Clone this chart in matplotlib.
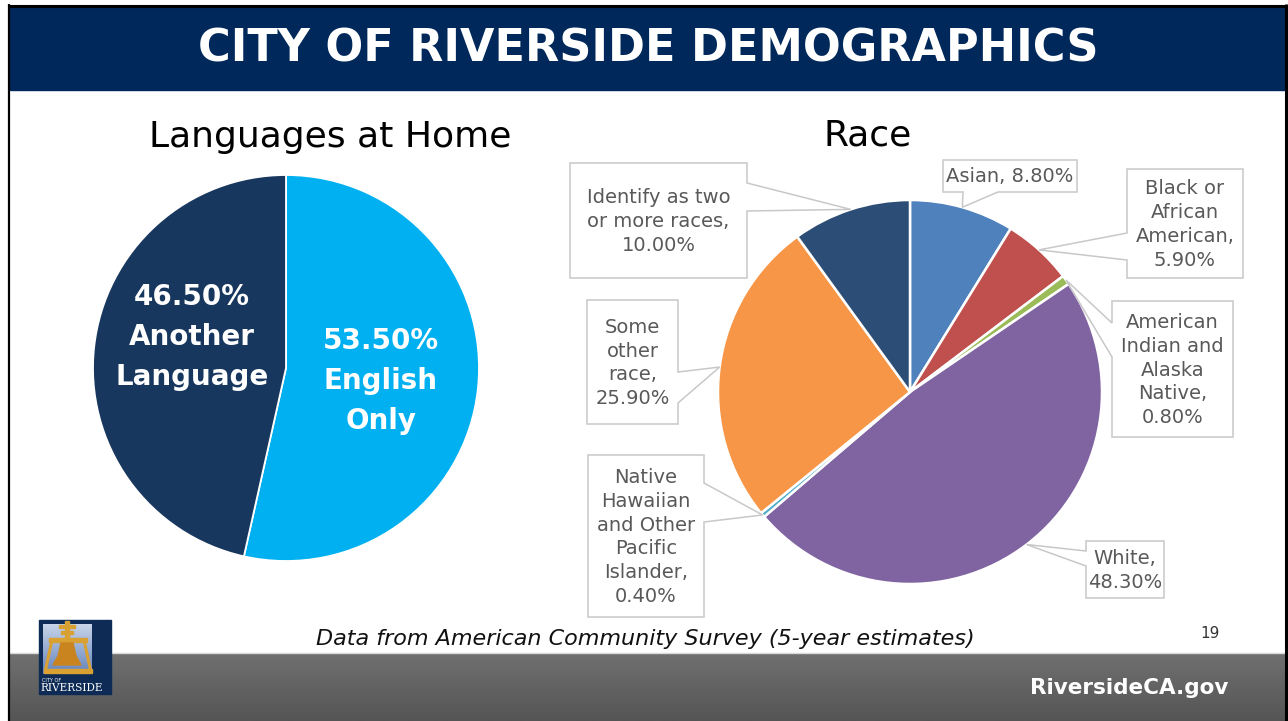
import numpy as np
import matplotlib
matplotlib.use("Agg")
import matplotlib.pyplot as plt
from matplotlib.patches import Rectangle, Polygon

# -------------------------
# DATA
# -------------------------
lang_labels = ["English\nOnly", "Another\nLanguage"]
lang_values = [53.5, 46.5]
lang_colors = ["#00B0F0", "#17375E"]

race_labels = ["Asian,", "Black or\nAfrican\nAmerican,",
               "American\nIndian and\nAlaska\nNative,", "White,",
               "Native\nHawaiian\nand Other\nPacific\nIslander,",
               "Some\nother\nrace,", "Identify as two\nor more races,"]
race_values = [8.8, 5.9, 0.8, 48.3, 0.4, 25.9, 10.0]
race_colors = ["#4F81BD", "#C0504D", "#9BBB59", "#8064A2",
               "#4BACC6", "#F79646", "#2C4D75"]

title = "CITY OF RIVERSIDE DEMOGRAPHICS"
source_note = "Data from American Community Survey (5-year estimates)"

# -------------------------
# LAYOUT (pixels, y down)
# -------------------------
W, H = 1288, 721
lang_center, lang_r = (286, 368), 193
race_center, race_r = (910, 392), 192

# callout box, side of pointer, pointer base, separator before value
callouts = [
    ((943, 160, 1077, 192), "bottom", (963, 998), " "),
    ((1127, 169, 1243, 278), "left", (233, 260), "\n"),
    ((1112, 301, 1233, 437), "left", (323, 357), "\n"),
    ((1086, 541, 1164, 598), "left", (551, 566), "\n"),
    ((588, 455, 704, 617), "right", (483, 522), "\n"),
    ((587, 300, 678, 424), "right", (372, 403), "\n"),
    ((570, 163, 747, 278), "right", (183, 211), "\n"),
]
lang_text_pos = [(381, 381), (192, 337)]

fig = plt.figure(figsize=(W / 100, H / 100), dpi=100)
fig.patch.set_facecolor("white")
ax = fig.add_axes([0, 0, 1, 1])

# -------------------------
# SLIDE FRAME
# -------------------------
ax.add_patch(Rectangle((10, 7), 1275, 83, color="#00285A", zorder=2))
ax.plot([8, 1288], [5.5, 5.5], color="black", lw=2.2, zorder=5, solid_capstyle="butt")
ax.plot([9, 9], [4, 721], color="black", lw=1.6, zorder=5, solid_capstyle="butt")
ax.plot([1286.5, 1286.5], [4, 721], color="black", lw=2.2, zorder=5, solid_capstyle="butt")

ax.text(648, 49, title, ha="center", va="center", color="white",
        fontsize=32, fontweight="bold", zorder=3)

# footer band with gradient
grad = np.linspace(0, 1, 60).reshape(-1, 1, 1)
top_c = np.array([0x70, 0x70, 0x70]) / 255
bot_c = np.array([0x55, 0x55, 0x55]) / 255
img = top_c * (1 - grad) + bot_c * grad
ax.imshow(img, extent=(10, 1285, 721, 653), aspect="auto", zorder=1)
ax.plot([10, 1285], [653, 653], color="#d9d9d9", lw=1, zorder=2)
ax.text(1228, 688, "RiversideCA.gov", ha="right", va="center", color="white",
        fontsize=15.5, fontweight="bold", zorder=3)

ax.text(645, 639, source_note, ha="center", va="center", color="#111111",
        fontsize=16, style="italic", zorder=3)
ax.text(1210, 633, "19", ha="center", va="center", color="#333333", fontsize=11)

# logo (simplified)
ax.add_patch(Rectangle((39, 620), 72, 74, color="#0D2B55", zorder=4))
sky = np.linspace(0, 1, 40).reshape(-1, 1, 1)
sky_img = np.array([0.78, 0.83, 0.91]) * (1 - sky) + np.array([0.40, 0.52, 0.74]) * sky
ax.imshow(sky_img, extent=(43, 92, 674, 624), aspect="auto", zorder=4.1)
gold = "#D9A032"
ax.add_patch(Rectangle((44, 669), 48, 4, color=gold, zorder=4.3))
ax.add_patch(Rectangle((49, 638), 38, 4, color=gold, zorder=4.3))
ax.plot([52, 45.5], [640, 670], color=gold, lw=2.2, zorder=4.3)
ax.plot([84, 90.5], [640, 670], color=gold, lw=2.2, zorder=4.3)
ax.add_patch(Rectangle((65, 621), 4, 20, color=gold, zorder=4.3))
ax.add_patch(Rectangle((59, 625), 16, 3, color=gold, zorder=4.3))
ax.add_patch(Rectangle((61, 631), 12, 3, color=gold, zorder=4.3))
ax.add_patch(Polygon([(61, 643), (73, 643), (76, 656), (81, 665), (53, 665), (58, 656)],
                     closed=True, color="#C9841F", zorder=4.4))
ax.text(42, 680, "CITY OF", color="white", fontsize=3.6, ha="left", va="center", zorder=4.5)
ax.text(40.5, 688, "RIVERSIDE", color="white", fontsize=7.6, family="DejaVu Serif",
        ha="left", va="center", zorder=4.5)

# -------------------------
# LANGUAGES PIE
# -------------------------
ax.text(330, 137, "Languages at Home", ha="center", va="center", color="black", fontsize=26)
lang_wedges, _ = ax.pie(lang_values, colors=lang_colors, startangle=-90, counterclock=True,
                        center=lang_center, radius=lang_r,
                        wedgeprops=dict(edgecolor="white", linewidth=1.3))
for (x, y), lab, v in zip(lang_text_pos, lang_labels, lang_values):
    ax.text(x, y, f"{v:.2f}%\n{lab}", ha="center", va="center", color="white",
            fontsize=20, fontweight="bold", linespacing=1.55, zorder=3)

# -------------------------
# RACE PIE
# -------------------------
ax.text(868, 135, "Race", ha="center", va="center", color="black", fontsize=26)
race_wedges, _ = ax.pie(race_values, colors=race_colors, startangle=-90, counterclock=True,
                        center=race_center, radius=race_r,
                        wedgeprops=dict(edgecolor="white", linewidth=1.8))

for w, lab, v, (box, side, base, sep) in zip(race_wedges, race_labels, race_values, callouts):
    mid = np.deg2rad((w.theta1 + w.theta2) / 2)
    tip = (race_center[0] + race_r * np.cos(mid), race_center[1] + race_r * np.sin(mid))
    x0, y0, x1, y1 = box
    b_lo, b_hi = sorted(base)
    pts = [(x0, y0), (x1, y0)]
    if side == "right":
        pts += [(x1, b_lo), tip, (x1, b_hi)]
    pts += [(x1, y1)]
    if side == "bottom":
        pts += [(b_hi, y1), tip, (b_lo, y1)]
    pts += [(x0, y1)]
    if side == "left":
        pts += [(x0, b_hi), tip, (x0, b_lo)]
    ax.add_patch(Polygon(pts, closed=True, facecolor="white", edgecolor="#C8C8C8",
                         lw=1.1, zorder=3))
    ax.text((x0 + x1) / 2, (y0 + y1) / 2 + 1, f"{lab}{sep}{v:.2f}%", ha="center",
            va="center", multialignment="center", color="#595959", fontsize=14,
            linespacing=1.33, zorder=4)

ax.set_xlim(0, W)
ax.set_ylim(H, 0)
ax.set_aspect("auto")
ax.axis("off")

fig.savefig("out.png", dpi=100)
